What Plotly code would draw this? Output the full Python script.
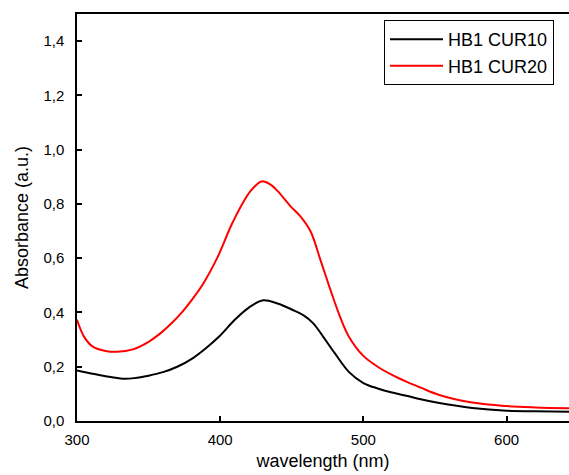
import plotly.graph_objects as go

# HB1 CUR10 (black)
wl_cur10 = [300, 310, 320, 332, 340, 350, 360, 370, 381, 390, 400, 410, 420, 430,
            440, 450, 458, 465, 472, 480, 490, 500, 510, 520, 530, 540, 553, 576,
            600, 620, 644]
abs_cur10 = [0.186, 0.175, 0.165, 0.156, 0.158, 0.167, 0.180, 0.200, 0.232, 0.268,
             0.315, 0.372, 0.418, 0.445, 0.433, 0.411, 0.390, 0.360, 0.310, 0.250,
             0.180, 0.140, 0.120, 0.105, 0.093, 0.080, 0.066, 0.048, 0.038, 0.036,
             0.034]

# HB1 CUR20 (red)
wl_cur20 = [300, 305, 311, 320, 328, 339, 350, 358, 366, 374, 381, 388, 398, 409,
            421, 429, 435, 440, 449, 456, 463, 470, 477, 484, 490, 500, 510, 520,
            530, 540, 553, 576, 600, 620, 644]
abs_cur20 = [0.373, 0.310, 0.274, 0.258, 0.255, 0.264, 0.292, 0.322, 0.360, 0.405,
             0.452, 0.505, 0.602, 0.735, 0.846, 0.883, 0.872, 0.848, 0.792, 0.754,
             0.700, 0.594, 0.483, 0.380, 0.310, 0.240, 0.200, 0.170, 0.145, 0.123,
             0.096, 0.068, 0.055, 0.050, 0.047]

x_ticks = [300, 400, 500, 600]
y_ticks = [0.0, 0.2, 0.4, 0.6, 0.8, 1.0, 1.2, 1.4]
y_tick_text = ["0,0", "0,2", "0,4", "0,6", "0,8", "1,0", "1,2", "1,4"]

FONT = "Liberation Sans, Arial, sans-serif"

fig = go.Figure()
fig.add_trace(go.Scatter(x=wl_cur10, y=abs_cur10, mode="lines", name="HB1 CUR10",
                         line=dict(color="black", width=2, shape="spline", smoothing=1)))
fig.add_trace(go.Scatter(x=wl_cur20, y=abs_cur20, mode="lines", name="HB1 CUR20",
                         line=dict(color="#ff0000", width=2, shape="spline", smoothing=1)))

fig.update_layout(
    width=569, height=475,
    margin=dict(l=77, r=0, t=14, b=54),
    paper_bgcolor="white", plot_bgcolor="white",
    font=dict(family=FONT, size=15, color="black"),
    showlegend=True,
    legend=dict(x=0.624, y=0.985, xanchor="left", yanchor="top",
                bordercolor="black", borderwidth=1, bgcolor="white",
                font=dict(size=18, family=FONT), itemwidth=53,
                tracegroupgap=0),
    xaxis=dict(range=[300, 643.6], tickvals=x_ticks, ticks="inside", ticklen=5,
               tickwidth=1.5, tickcolor="black", showline=True, linecolor="black",
               linewidth=1.5, mirror=True, showgrid=False, zeroline=False,
               tickfont=dict(size=15), ticklabelstandoff=4,
               title=dict(text="wavelength (nm)", font=dict(size=18), standoff=8)),
    yaxis=dict(range=[0, 1.5], tickvals=y_ticks, ticktext=y_tick_text, ticks="inside",
               ticklen=5, tickwidth=1.5, tickcolor="black", showline=True,
               linecolor="black", linewidth=1.5, mirror=False, showgrid=False,
               zeroline=False, tickfont=dict(size=15), ticklabelstandoff=8,
               title=dict(text="Absorbance (a.u.)", font=dict(size=18), standoff=10)),
)

fig.write_html("out.html")
